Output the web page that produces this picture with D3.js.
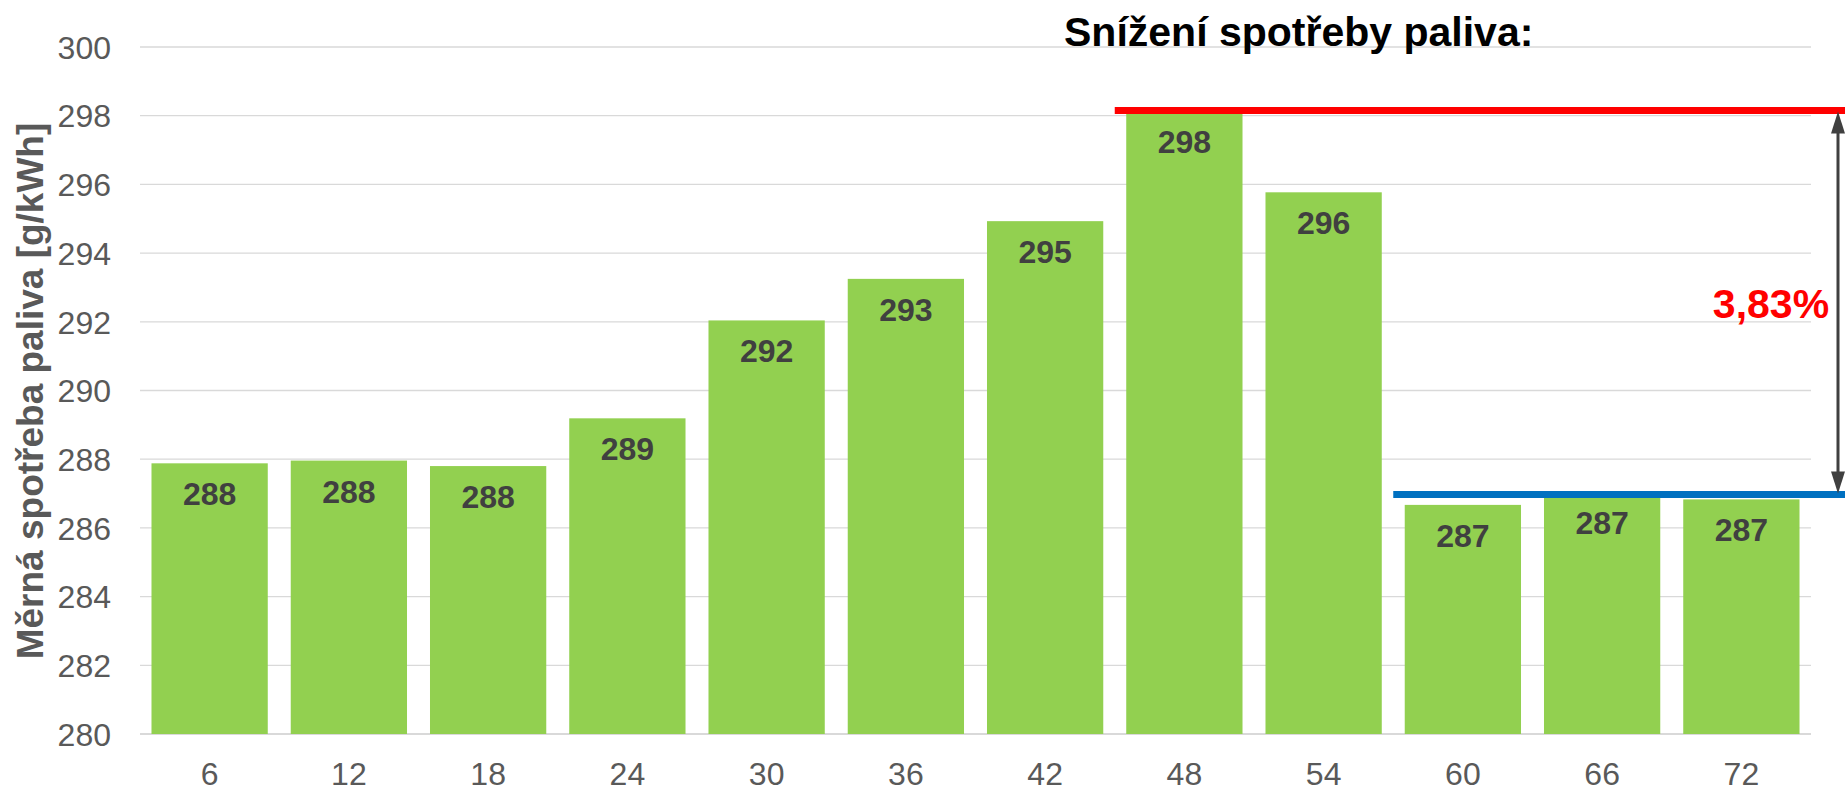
<!DOCTYPE html>
<html>
<head>
<meta charset="utf-8">
<script src="https://cdn.jsdelivr.net/npm/d3@7"></script>
<style>
    body { margin: 0; background: #fff; }
    svg text { font-family: "Liberation Sans", Arial, sans-serif; }
</style>
</head>
<body>
<div id="chart"></div>
<script>
// hours (categories) and specific fuel consumption values
const categories = ['6', '12', '18', '24', '30', '36', '42', '48', '54', '60', '66', '72'];
const values     = [287.88, 287.96, 287.80, 289.19, 292.04, 293.25, 294.93, 298.13, 295.77, 286.67, 287.05, 286.83];
const labels     = ['288', '288', '288', '289', '292', '293', '295', '298', '296', '287', '287', '287'];
const yTicks     = [280, 282, 284, 286, 288, 290, 292, 294, 296, 298, 300];

// annotation: high / low reference lines and the reduction
const refHigh    = { from: '48', value: 298.15 },
      refLow     = { from: '60', value: 286.97 },
      reduction  = '3,83%',
      title      = 'Snížení spotřeby paliva:',
      yTitle     = 'Měrná spotřeba paliva [g/kWh]';

const width  = 1845,
      height = 788,
      margin = { top: 47, right: 34, bottom: 54, left: 140 },
      svg    = d3.select('#chart').append('svg')
                    .attr('width', width)
                    .attr('height', height)
                    .attr('viewBox', '0 0 ' + width + ' ' + height);

const x = d3.scaleBand()
            .domain(categories)
            .range([margin.left, width - margin.right])
            .paddingInner(0.165)
            .paddingOuter(0.0825);

const y = d3.scaleLinear()
            .domain([280, 300])
            .range([height - margin.bottom, margin.top]);

// gridlines
svg.append('g')
    .selectAll('line')
    .data(yTicks)
    .join('line')
    .attr('x1', margin.left)
    .attr('x2', width - margin.right)
    .attr('y1', d => y(d))
    .attr('y2', d => y(d))
    .attr('stroke', '#d9d9d9')
    .attr('stroke-width', d => d === 280 ? 2 : 1.3);

// y axis (labels only)
const yAxis = svg.append('g')
    .attr('transform', 'translate(' + (margin.left - 29) + ',0)')
    .call(d3.axisLeft(y).tickValues(yTicks).tickSize(0).tickPadding(0));
yAxis.select('.domain').remove();
yAxis.selectAll('text')
    .attr('fill', '#595959')
    .style('font-size', '32px')
    .attr('dy', '0.35em');

// x axis (labels only)
const xAxis = svg.append('g')
    .attr('transform', 'translate(0,' + (height - margin.bottom) + ')')
    .call(d3.axisBottom(x).tickSize(0).tickPadding(0));
xAxis.select('.domain').remove();
xAxis.selectAll('text')
    .attr('fill', '#595959')
    .style('font-size', '32px')
    .attr('dy', 0)
    .attr('y', 51);

// bars
svg.append('g')
    .selectAll('rect')
    .data(values)
    .join('rect')
    .attr('x', (d, i) => x(categories[i]))
    .attr('width', x.bandwidth())
    .attr('y', d => y(d))
    .attr('height', d => y(280) - y(d))
    .attr('fill', '#92d050');

// value labels inside bars
svg.append('g')
    .selectAll('text')
    .data(values)
    .join('text')
    .attr('x', (d, i) => x(categories[i]) + x.bandwidth() / 2)
    .attr('y', d => y(d) + 42)
    .attr('text-anchor', 'middle')
    .attr('fill', '#404040')
    .style('font-size', '32px')
    .style('font-weight', 'bold')
    .text((d, i) => labels[i]);

// reference lines start in the gap before their bar
const gap = (x.step() - x.bandwidth()) / 2;

svg.append('line')
    .attr('x1', x(refHigh.from) - gap)
    .attr('x2', width)
    .attr('y1', y(refHigh.value))
    .attr('y2', y(refHigh.value))
    .attr('stroke', '#ff0000')
    .attr('stroke-width', 7);

svg.append('line')
    .attr('x1', x(refLow.from) - gap)
    .attr('x2', width)
    .attr('y1', y(refLow.value))
    .attr('y2', y(refLow.value))
    .attr('stroke', '#0070c0')
    .attr('stroke-width', 7);

// double arrow between the two levels
const ax = 1838,
      yTop = y(refHigh.value) + 1,
      yBot = y(refLow.value) - 1,
      head = 22, half = 7;

svg.append('line')
    .attr('x1', ax).attr('x2', ax)
    .attr('y1', yTop + head - 2)
    .attr('y2', yBot - head + 2)
    .attr('stroke', '#404040')
    .attr('stroke-width', 3);

svg.append('path')
    .attr('d', `M${ax},${yTop} L${ax + half},${yTop + head} L${ax - half},${yTop + head} Z`)
    .attr('fill', '#404040');

svg.append('path')
    .attr('d', `M${ax},${yBot} L${ax + half},${yBot - head} L${ax - half},${yBot - head} Z`)
    .attr('fill', '#404040');

svg.append('text')
    .attr('x', 1771)
    .attr('y', 318)
    .attr('text-anchor', 'middle')
    .attr('fill', '#ff0000')
    .style('font-size', '41px')
    .style('font-weight', 'bold')
    .text(reduction);

// title
svg.append('text')
    .attr('x', 1064)
    .attr('y', 46)
    .attr('fill', '#000')
    .style('font-size', '41px')
    .style('font-weight', 'bold')
    .text(title);

// y axis title
svg.append('text')
    .attr('transform', 'translate(43,' + 391 + ') rotate(-90)')
    .attr('text-anchor', 'middle')
    .attr('fill', '#595959')
    .style('font-size', '37px')
    .style('font-weight', 'bold')
    .text(yTitle);
</script>
</body>
</html>
